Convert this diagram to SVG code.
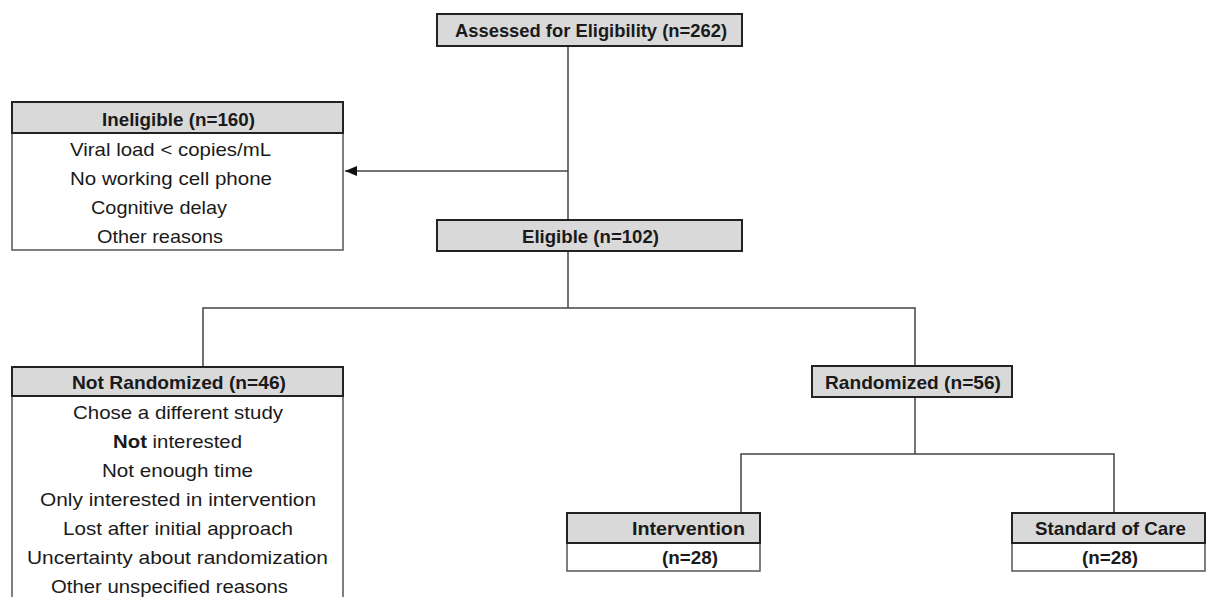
<svg xmlns="http://www.w3.org/2000/svg" width="1206" height="597" viewBox="0 0 1206 597">
<defs>
<marker id="arr" viewBox="0 0 12 10" refX="12" refY="5" markerWidth="12" markerHeight="10" markerUnits="userSpaceOnUse" orient="auto">
<path d="M0,0 L12,5 L0,10 z" fill="#111"/>
</marker>
<style>
.hdr{fill:#d9d9d9;stroke:#222;stroke-width:2}
.body{fill:#fff;stroke:#555;stroke-width:1.5}
.t{font-family:"Liberation Sans",Arial,sans-serif;font-size:19px;fill:#1a1a1a}
.b{font-weight:bold}
.c{text-anchor:middle}
.ln{stroke:#444;stroke-width:1.5;fill:none}
</style>
</defs>
<rect width="1206" height="597" fill="#fff"/>
<g id="connectors">
<path class="ln" d="M568,46 V220"/>
<path class="ln" d="M568,171 H345" marker-end="url(#arr)"/>
<path class="ln" d="M568,251 V308"/>
<path class="ln" d="M203,367 V308 H915 V366"/>
<path class="ln" d="M915,397 V454"/>
<path class="ln" d="M741,513 V454 H1114 V513"/>
</g>
<g id="assessed">
<rect class="hdr" x="437" y="14" width="305" height="32"/>
<text class="t b" x="455" y="37" textLength="272" lengthAdjust="spacingAndGlyphs">Assessed for Eligibility (n=262)</text>
</g>
<g id="ineligible">
<rect class="body" x="12" y="102" width="331" height="148"/>
<rect class="hdr" x="12" y="102" width="331" height="31"/>
<text class="t b" x="102" y="126" textLength="153" lengthAdjust="spacingAndGlyphs">Ineligible (n=160)</text>
<text class="t" x="70" y="156" textLength="201" lengthAdjust="spacingAndGlyphs">Viral load &lt; copies/mL</text>
<text class="t" x="70" y="185" textLength="202" lengthAdjust="spacingAndGlyphs">No working cell phone</text>
<text class="t" x="91" y="214" textLength="136" lengthAdjust="spacingAndGlyphs">Cognitive delay</text>
<text class="t" x="97" y="243" textLength="126" lengthAdjust="spacingAndGlyphs">Other reasons</text>
</g>
<g id="eligible">
<rect class="hdr" x="437" y="220" width="305" height="31"/>
<text class="t b" x="522" y="243" textLength="137" lengthAdjust="spacingAndGlyphs">Eligible (n=102)</text>
</g>
<g id="not-randomized">
<rect class="body" x="12" y="367" width="331" height="240"/>
<rect class="hdr" x="12" y="367" width="331" height="29"/>
<text class="t b" x="72" y="389" textLength="214" lengthAdjust="spacingAndGlyphs">Not Randomized (n=46)</text>
<text class="t" x="73" y="419" textLength="210" lengthAdjust="spacingAndGlyphs">Chose a different study</text>
<text class="t" x="113" y="448" textLength="129" lengthAdjust="spacingAndGlyphs"><tspan class="b">Not</tspan> interested</text>
<text class="t" x="102" y="477" textLength="151" lengthAdjust="spacingAndGlyphs">Not enough time</text>
<text class="t" x="40" y="506" textLength="276" lengthAdjust="spacingAndGlyphs">Only interested in intervention</text>
<text class="t" x="63" y="535" textLength="230" lengthAdjust="spacingAndGlyphs">Lost after initial approach</text>
<text class="t" x="27" y="564" textLength="301" lengthAdjust="spacingAndGlyphs">Uncertainty about randomization</text>
<text class="t" x="51" y="593" textLength="237" lengthAdjust="spacingAndGlyphs">Other unspecified reasons</text>
</g>
<g id="randomized">
<rect class="hdr" x="812" y="366" width="200" height="31"/>
<text class="t b" x="825" y="389" textLength="176" lengthAdjust="spacingAndGlyphs">Randomized (n=56)</text>
</g>
<g id="intervention">
<rect class="body" x="567" y="513" width="193" height="58"/>
<rect class="hdr" x="567" y="513" width="193" height="30"/>
<text class="t b" x="632" y="535" textLength="113" lengthAdjust="spacingAndGlyphs">Intervention</text>
<text class="t b" x="662" y="564" textLength="56" lengthAdjust="spacingAndGlyphs">(n=28)</text>
</g>
<g id="standard-of-care">
<rect class="body" x="1012" y="513" width="193" height="58"/>
<rect class="hdr" x="1012" y="513" width="193" height="30"/>
<text class="t b" x="1035" y="535" textLength="151" lengthAdjust="spacingAndGlyphs">Standard of Care</text>
<text class="t b" x="1082" y="564" textLength="56" lengthAdjust="spacingAndGlyphs">(n=28)</text>
</g>
</svg>
